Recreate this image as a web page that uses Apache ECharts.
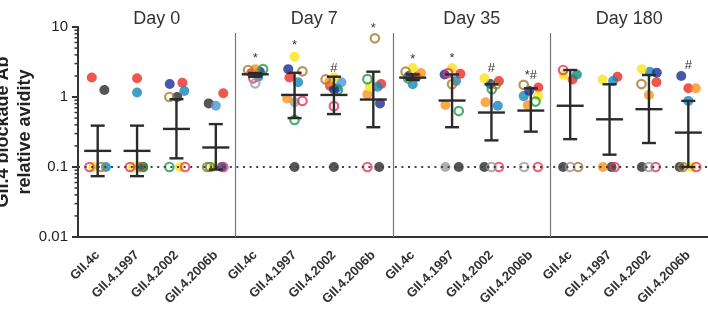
<!DOCTYPE html>
<html>
<head>
<meta charset="utf-8">
<script src="https://cdn.jsdelivr.net/npm/echarts@6/dist/echarts.min.js"></script>
<style>
    html, body { margin: 0; padding: 0; background: #fff; }
    #chart { width: 708px; height: 319px; }
</style>
</head>
<body>
<div id="chart"></div>
<script>
    // panels and strains
    const days = ['Day 0', 'Day 7', 'Day 35', 'Day 180'];
    const strains = ['GII.4c', 'GII.4.1997', 'GII.4.2002', 'GII.4.2006b'];

    // geometric mean and 95% CI for each of the 16 columns
    const geoMean = [0.17, 0.17, 0.35, 0.19, 2.11, 1.07, 1.07, 0.92, 1.89, 0.89, 0.60, 0.64, 0.75, 0.48, 0.67, 0.31];
    const ciUpper = [0.39, 0.39, 0.93, 0.41, 2.20, 2.22, 1.95, 2.30, 2.10, 2.10, 1.52, 1.33, 2.43, 1.52, 2.06, 0.88];
    const ciLower = [0.074, 0.074, 0.133, 0.092, 1.95, 0.50, 0.57, 0.37, 1.75, 0.37, 0.24, 0.32, 0.25, 0.15, 0.22, 0.10];

    // subjects: [column, jitter (in columns), value]
    const red = [[0, -0.15, 1.9], [1, 0, 1.85], [2, 0.15, 1.6], [3, 0.19, 1.13], [4, -0.1, 2.2], [5, -0.13, 1.9],
        [6, -0.1, 1.45], [7, 0.2, 1.53], [8, 0.1, 1.95], [9, 0.21, 2.14], [10, 0.19, 1.69], [11, 0.19, 1.37],
        [12, 0.06, 1.78], [13, 0.2, 1.95], [14, 0.19, 1.62], [15, 0, 1.33]];
    const black = [[0, 0.17, 1.26], [1, 0.15, 0.1], [2, 0.02, 1.0], [3, -0.18, 0.81], [5, 0, 0.1], [6, 0, 0.1],
        [7, 0.15, 0.1], [9, 0.17, 0.1], [10, -0.18, 0.1], [12, -0.18, 0.1], [13, 0.05, 0.1], [14, -0.18, 0.1], [15, -0.22, 0.1]];
    const blue = [[0, 0.21, 0.1], [1, 0, 1.16], [2, 0.2, 1.22], [4, 0.08, 1.95], [5, 0.09, 1.62], [6, 0.07, 1.33],
        [7, 0.11, 1.4], [8, 0, 1.52], [9, 0.1, 1.69], [10, 0.16, 0.75], [11, -0.18, 1.03], [13, 0.09, 1.69],
        [14, 0.02, 2.3], [15, 0, 0.88]];
    const teal = [[12, 0.17, 2.1]];
    const lightBlue = [[3, 0, 0.75], [6, 0.19, 1.62]];
    const navy = [[2, -0.17, 1.53], [3, 0.15, 0.1], [4, 0.12, 2.3], [5, -0.16, 2.5], [6, 0, 1.29], [7, 0.17, 0.81],
        [8, -0.1, 2.0], [9, -0.19, 2.1], [10, -0.03, 1.53], [11, -0.04, 1.23], [14, 0.2, 2.22], [15, -0.18, 1.99]];
    const orange = [[4, 0, 2.5], [5, -0.19, 0.95], [6, -0.12, 1.65], [7, -0.15, 1.09], [8, 0.21, 2.2], [9, -0.17, 0.77],
        [10, -0.15, 0.84], [11, -0.08, 0.77], [13, -0.17, 0.1], [14, 0, 1.07], [15, 0.19, 1.33]];
    const yellow = [[0, -0.11, 0.1], [1, -0.1, 0.1], [2, 0.09, 0.1], [3, -0.07, 0.1], [5, 0, 3.77], [6, 0, 1.9],
        [7, -0.09, 1.4], [8, 0, 2.6], [9, 0, 2.6], [10, -0.18, 1.85], [11, 0.19, 1.03], [12, -0.17, 2.06],
        [13, -0.18, 1.78], [14, -0.18, 2.5], [15, 0.08, 0.1]];
    const grey = [[5, 0, 0.84], [9, -0.17, 0.1]];
    const greenOpen = [[1, 0.15, 0.1], [2, -0.18, 0.1], [3, -0.15, 0.1], [4, 0.2, 2.5], [5, 0, 0.47], [6, 0.1, 1.26],
        [7, -0.15, 1.8], [8, -0.12, 1.85], [9, 0.17, 0.63], [10, 0.01, 1.29], [11, 0.12, 0.86]];
    const brownOpen = [[0, 0.08, 0.1], [1, 0.09, 0.1], [2, -0.18, 1.0], [3, -0.22, 0.1], [4, -0.18, 2.43], [5, 0.2, 2.33],
        [6, -0.21, 1.78], [7, 0.04, 6.9], [8, -0.18, 2.3], [9, 0, 1.52], [10, 0.12, 1.52], [11, -0.18, 1.49],
        [12, 0.2, 0.1], [14, -0.19, 1.53], [15, -0.14, 0.1]];
    const pinkOpen = [[0, -0.21, 0.1], [1, -0.18, 0.1], [2, 0.22, 0.1], [3, 0.19, 0.1], [4, -0.05, 1.85], [5, 0.2, 0.88],
        [6, 0, 0.74], [7, -0.15, 0.1], [9, -0.1, 2.2], [10, 0.19, 0.1], [11, 0.18, 0.1], [12, -0.18, 2.43],
        [13, 0.13, 0.1], [14, 0.17, 0.1], [15, 0.2, 0.1]];
    const greyOpen = [[4, 0, 1.57], [10, 0, 0.1], [11, -0.17, 0.1], [12, 0, 0.1], [14, 0, 0.1]];

    // significance marks
    const markCols = [4, 5, 6, 7, 8, 9, 10, 11, 15];
    const markVals = [3.5, 5.4, 2.6, 9.4, 3.4, 3.6, 2.6, 2.06, 2.8];
    const markText = ['*', '*', '#', '*', '*', '*', '#', '*#', '#'];

    const FONT = 'Liberation Sans, Arial, sans-serif';
    const GRID_L = 78, GRID_W = 630;
    const colW = GRID_W / 16;

    const subjects = [
        { pts: black, color: '#2b2b2b' },
        { pts: grey, color: '#9b9b9b' },
        { pts: red, color: '#ec2a22' },
        { pts: blue, color: '#1786b9' },
        { pts: teal, color: '#13897f' },
        { pts: lightBlue, color: '#4e95d6' },
        { pts: navy, color: '#1b2c8f' },
        { pts: orange, color: '#f7941d' },
        { pts: yellow, color: '#fbe41b' },
        { pts: greenOpen, color: '#1e9a48', open: true },
        { pts: brownOpen, color: '#a57a2e', open: true },
        { pts: pinkOpen, color: '#e8375d', open: true },
        { pts: greyOpen, color: '#9a9a9a', open: true }
    ];

    const xLabels = [];
    days.forEach(() => strains.forEach(s => xLabels.push(s)));

    // log minor ticks 2..9 per decade
    const minorVals = [];
    [0.01, 0.1, 1].forEach(d => {
        for (let m = 2; m <= 9; m++) minorVals.push([m * d]);
    });

    let CHART = echarts.init(document.getElementById('chart'));

    let series = subjects.map((s, idx) => ({
        type: 'scatter',
        xAxisIndex: 1,
        yAxisIndex: 0,
        silent: true,
        symbol: 'circle',
        symbolSize: s.open ? 8.5 : 10,
        itemStyle: s.open
            ? { color: 'rgba(255,255,255,0)', borderColor: s.color, borderWidth: 2.2 }
            : { color: s.color, borderWidth: 0 },
        data: s.pts.map(p => [p[0] + p[1], p[2]]),
        markLine: idx === 0 ? {
            silent: true,
            symbol: ['none', 'none'],
            label: { show: false },
            animation: false,
            data: [
                [{ coord: [-0.5, 0.1], lineStyle: { color: '#444', width: 2, type: [2, 4.6] } }, { coord: [15.5, 0.1] }],
                [{ coord: [3.5, 8.2], lineStyle: { color: '#777', width: 1.2, type: 'solid' } }, { coord: [3.5, 0.01] }],
                [{ coord: [7.5, 8.2], lineStyle: { color: '#777', width: 1.2, type: 'solid' } }, { coord: [7.5, 0.01] }],
                [{ coord: [11.5, 8.2], lineStyle: { color: '#777', width: 1.2, type: 'solid' } }, { coord: [11.5, 0.01] }]
            ]
        } : undefined,
        z: 2
    }));

    // mean with CI
    series.push({
        type: 'custom',
        xAxisIndex: 1,
        yAxisIndex: 0,
        silent: true,
        z: 5,
        data: geoMean.map((m, i) => [i, m, ciUpper[i], ciLower[i]]),
        renderItem: function (params, api) {
            let c = api.value(0);
            let m = api.coord([c, api.value(1)]);
            let hi = api.coord([c, api.value(2)]);
            let lo = api.coord([c, api.value(3)]);
            let st = { stroke: '#2b2b2b', lineWidth: 2.4 };
            return {
                type: 'group',
                children: [
                    { type: 'line', shape: { x1: m[0], y1: hi[1], x2: m[0], y2: lo[1] }, style: st },
                    { type: 'line', shape: { x1: m[0] - 7, y1: hi[1], x2: m[0] + 7, y2: hi[1] }, style: st },
                    { type: 'line', shape: { x1: m[0] - 7, y1: lo[1], x2: m[0] + 7, y2: lo[1] }, style: st },
                    { type: 'line', shape: { x1: m[0] - 13.5, y1: m[1], x2: m[0] + 13.5, y2: m[1] }, style: st }
                ]
            };
        }
    });

    // * and # marks
    series.push({
        type: 'custom',
        xAxisIndex: 1,
        yAxisIndex: 0,
        silent: true,
        z: 6,
        data: markCols.map((c, i) => [c, markVals[i], i]),
        renderItem: function (params, api) {
            let p = api.coord([api.value(0), api.value(1)]);
            return {
                type: 'text',
                x: p[0],
                y: p[1],
                style: {
                    text: markText[api.value(2)],
                    textAlign: 'center',
                    textVerticalAlign: 'middle',
                    font: '13px ' + FONT,
                    fill: '#333'
                }
            };
        }
    });

    // minor ticks on the log axis
    series.push({
        type: 'custom',
        xAxisIndex: 1,
        yAxisIndex: 0,
        silent: true,
        clip: false,
        z: 6,
        data: minorVals,
        renderItem: function (params, api) {
            let p = api.coord([-0.5, api.value(0)]);
            return {
                type: 'line',
                shape: { x1: p[0] - 3.5, y1: p[1], x2: p[0], y2: p[1] },
                style: { stroke: '#333', lineWidth: 1.5 }
            };
        }
    });

    let graphics = days.map((d, p) => ({
        type: 'text',
        x: GRID_L + (4 * p + 2) * colW,
        y: 19,
        style: { text: d, textAlign: 'center', textVerticalAlign: 'middle', font: '18px ' + FONT, fill: '#333' }
    }));
    graphics.push({
        type: 'text', x: 3, y: 132, rotation: Math.PI / 2,
        style: { text: 'GII.4 blockade Ab', textAlign: 'center', textVerticalAlign: 'middle', font: 'bold 18px ' + FONT, fill: '#222' }
    });
    graphics.push({
        type: 'text', x: 25, y: 132, rotation: Math.PI / 2,
        style: { text: 'relative avidity', textAlign: 'center', textVerticalAlign: 'middle', font: 'bold 18px ' + FONT, fill: '#222' }
    });

    CHART.setOption({
        animation: false,
        grid: { left: GRID_L, right: 0, top: 27, bottom: 82, containLabel: false },
        xAxis: [{
            type: 'category',
            data: xLabels,
            position: 'bottom',
            axisLine: { onZero: false, lineStyle: { color: '#333', width: 2 } },
            axisTick: { alignWithLabel: true, length: 6, lineStyle: { color: '#333', width: 2 } },
            axisLabel: {
                interval: 0,
                rotate: 45,
                margin: 16,
                color: '#333',
                fontFamily: FONT,
                fontWeight: 'bold',
                fontSize: 13
            },
            splitLine: { show: false }
        }, {
            type: 'value',
            min: -0.5,
            max: 15.5,
            show: false
        }],
        yAxis: [{
            type: 'log',
            logBase: 10,
            min: 0.01,
            max: 10,
            axisLine: { show: true, onZero: false, lineStyle: { color: '#333', width: 2 } },
            axisTick: { show: true, length: 6, lineStyle: { color: '#333', width: 2 } },
            axisLabel: {
                margin: 10,
                color: '#222',
                fontFamily: FONT,
                fontSize: 15,
                formatter: function (v) { return String(+v.toPrecision(3)); }
            },
            splitLine: { show: false }
        }],
        graphic: graphics,
        series: series
    });
</script>
</body>
</html>
